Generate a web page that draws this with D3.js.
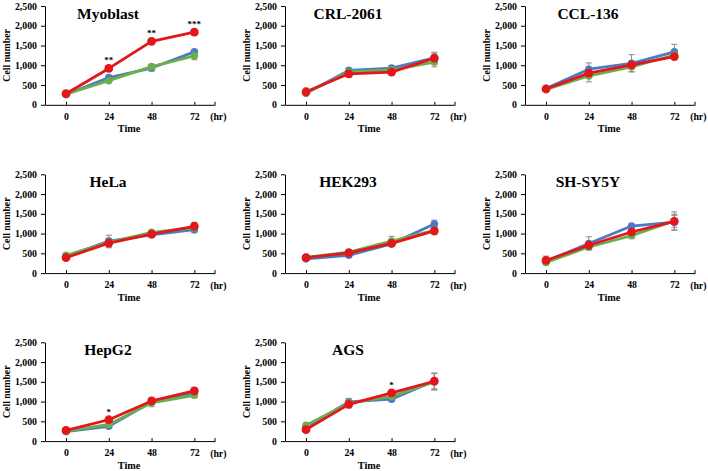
<!DOCTYPE html>
<html>
<head>
<meta charset="utf-8">
<script src="https://cdn.jsdelivr.net/npm/d3@7"></script>
<style>
  body { margin: 0; background: #fff; }
  svg { display: block; }
  svg text { font-family: "Liberation Serif", "Times New Roman", serif !important; font-weight: bold; fill: #000; }
</style>
</head>
<body>
<svg id="chart" width="708" height="471"></svg>
<script>
const timePoints = [0, 24, 48, 72];
const yTicks = [0, 500, 1000, 1500, 2000, 2500];
const cellLines = ["Myoblast", "CRL-2061", "CCL-136", "HeLa", "HEK293", "SH-SY5Y", "HepG2", "AGS"];

const blueMeans = [
  [260, 690, 930, 1340],
  [290, 870, 930, 1190],
  [410, 900, 1050, 1340],
  [420, 810, 970, 1100],
  [360, 450, 740, 1240],
  [300, 750, 1190, 1290],
  [240, 375, 990, 1200],
  [350, 990, 1060, 1520]
];
const blueErrors = [
  [20, 40, 80, 50],
  [30, 40, 50, 100],
  [30, 160, 220, 190],
  [30, 150, 60, 80],
  [30, 40, 60, 100],
  [60, 170, 50, 200],
  [20, 30, 60, 60],
  [30, 90, 50, 200]
];
const greenMeans = [
  [270, 610, 965, 1240],
  [300, 830, 880, 1080],
  [390, 730, 960, 1260],
  [450, 780, 1030, 1150],
  [400, 530, 810, 1080],
  [270, 660, 950, 1320],
  [250, 420, 970, 1160],
  [400, 960, 1130, 1500]
];
const greenErrors = [
  [20, 40, 50, 100],
  [30, 40, 40, 120],
  [30, 150, 120, 100],
  [30, 80, 50, 60],
  [30, 40, 120, 80],
  [50, 60, 80, 230],
  [20, 40, 100, 60],
  [30, 60, 50, 210]
];
const redMeans = [
  [280, 920, 1605, 1840],
  [330, 785, 825, 1180],
  [400, 800, 1010, 1220],
  [390, 760, 985, 1185],
  [390, 510, 750, 1070],
  [320, 705, 1040, 1310],
  [270, 540, 1015, 1270],
  [290, 930, 1220, 1515]
];
const redErrors = [
  [20, 30, 40, 60],
  [30, 90, 40, 150],
  [20, 60, 60, 80],
  [30, 120, 40, 100],
  [30, 40, 60, 100],
  [110, 80, 60, 150],
  [20, 40, 90, 80],
  [30, 90, 50, 200]
];
const significance = [
  ["", "**", "**", "***"],
  ["", "", "", ""],
  ["", "", "", ""],
  ["", "", "", ""],
  ["", "", "", ""],
  ["", "", "", ""],
  ["", "*", "", ""],
  ["", "", "*", ""]
];

const seriesDefs = [
  { means: blueMeans, errors: blueErrors, color: "#4a7cc6", r: 3.8 },
  { means: greenMeans, errors: greenErrors, color: "#6cae4e", r: 3.8 },
  { means: redMeans, errors: redErrors, color: "#e3161c", r: 4.4 }
];

const colX = [45, 285, 525];
const rowTop = [6, 174.3, 342.3];
const plotH = 98.8;
const axisLen = 170;

const svg = d3.select("#chart");

const x = d3.scaleLinear().domain([-11.8, 83.6]).range([0, axisLen]);
const y = d3.scaleLinear().domain([0, 2500]).range([plotH, 0]);

cellLines.forEach((name, i) => {
  const col = i % 3, row = Math.floor(i / 3);
  const g = svg.append("g").attr("transform", `translate(${colX[col]},${rowTop[row]})`);

  // Y axis
  const yAxis = g.append("g")
    .call(d3.axisLeft(y).tickValues(yTicks).tickFormat(d3.format(",")).tickSize(4).tickSizeOuter(0));
  yAxis.select(".domain").attr("stroke", "#000").attr("stroke-width", 1);
  yAxis.selectAll(".tick line").attr("stroke", "#000");
  yAxis.selectAll(".tick text")
    .attr("x", -8)
    .attr("font-size", 9.8);

  // X axis
  const xAxis = g.append("g").attr("transform", `translate(0,${plotH})`)
    .call(d3.axisBottom(x).tickValues(timePoints).tickSize(-3).tickSizeOuter(0));
  xAxis.select(".domain").attr("stroke", "#000").attr("stroke-width", 1);
  xAxis.selectAll(".tick line").attr("stroke", "#000");
  xAxis.selectAll(".tick text")
    .attr("y", 8)
    .attr("font-size", 9.8);
  // end tick
  g.append("line")
    .attr("x1", x.range()[1]).attr("x2", x.range()[1])
    .attr("y1", plotH).attr("y2", plotH - 3)
    .attr("stroke", "#000");

  g.append("text")
    .attr("x", x(72) + 24).attr("y", plotH + 15.5)
    .attr("text-anchor", "middle")
    .attr("font-size", 9.8)
    .text("(hr)");

  g.append("text")
    .attr("x", axisLen / 2 - 1).attr("y", plotH + 27.5)
    .attr("text-anchor", "middle")
    .attr("font-size", 10.2)
    .text("Time");

  g.append("text")
    .attr("transform", `translate(-35,${plotH / 2}) rotate(-90)`)
    .attr("text-anchor", "middle")
    .attr("font-size", 9.8)
    .text("Cell number");

  g.append("text")
    .attr("x", 63).attr("y", 13)
    .attr("text-anchor", "middle")
    .attr("font-size", 15.5)
    .text(name);

  // error bars
  seriesDefs.forEach(s => {
    timePoints.forEach((t, j) => {
      const m = s.means[i][j], e = s.errors[i][j];
      const cx = x(t);
      g.append("line").attr("x1", cx).attr("x2", cx)
        .attr("y1", y(m - e)).attr("y2", y(m + e))
        .attr("stroke", "#8a8a8a").attr("stroke-width", 1);
      [m - e, m + e].forEach(v => {
        g.append("line").attr("x1", cx - 3).attr("x2", cx + 3)
          .attr("y1", y(v)).attr("y2", y(v))
          .attr("stroke", "#8a8a8a").attr("stroke-width", 1);
      });
    });
  });

  // lines + markers
  const line = d3.line().x((d, j) => x(timePoints[j])).y(d => y(d));
  seriesDefs.forEach(s => {
    g.append("path").datum(s.means[i])
      .attr("d", line)
      .attr("fill", "none")
      .attr("stroke", s.color)
      .attr("stroke-width", 2.8)
      .attr("stroke-linejoin", "round");
    g.selectAll(null).data(s.means[i]).enter().append("circle")
      .attr("cx", (d, j) => x(timePoints[j]))
      .attr("cy", d => y(d))
      .attr("r", s.r)
      .attr("fill", s.color);
  });

  // significance marks
  significance[i].forEach((lab, j) => {
    if (!lab) return;
    g.append("text")
      .attr("x", x(timePoints[j])).attr("y", y(redMeans[i][j]) - 5)
      .attr("text-anchor", "middle")
      .attr("font-size", 9)
      .text(lab);
  });
});
</script>
</body>
</html>
